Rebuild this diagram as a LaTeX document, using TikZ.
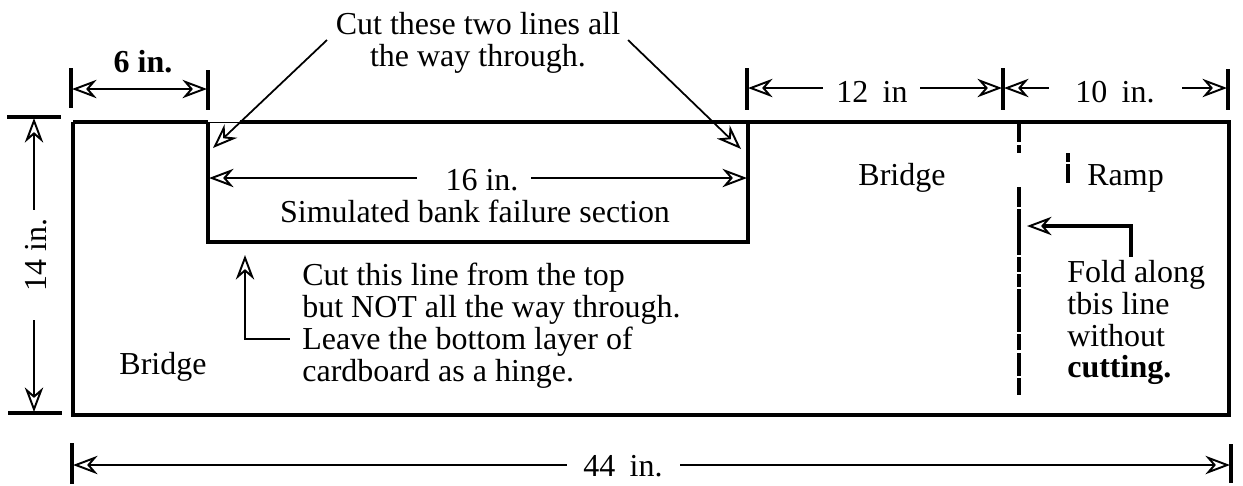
\documentclass[tikz,border=0pt]{standalone}
\usepackage{fontspec}
\setmainfont{Liberation Serif}
\usetikzlibrary{arrows.meta}
\tikzstyle{txt} = [inner sep = 0pt, font = \fontsize{18.2}{18.1}\selectfont, anchor = base]
\tikzstyle{para} = [inner sep = 0pt, font = \fontsize{18.2}{18.1}\selectfont, anchor = north west, align = left]
\tikzstyle{dim} = [<-, line width = 1pt]
\tikzstyle{tick} = [line width = 1.9pt]
\tikzstyle{edge} = [line width = 2.3pt]
\tikzstyle{rim} = [line width = 1.8pt]

\begin{document}
\begin{tikzpicture}[x = 0.02cm, y = -0.02cm, >={Stealth[open, length = 14pt, width = 10.5pt, inset = 4.5pt, line width = 1.1pt]}]
    \useasboundingbox (0, 0) rectangle (1243, 485);

    % outline of the board
    \coordinate (TL) at (73, 122);
    \coordinate (TLa) at (73, 155);
    \coordinate (BL) at (73, 415);
    \coordinate (BR) at (1229, 415);
    \coordinate (TR) at (1229, 122);
    \coordinate (Na) at (208, 122);
    \coordinate (Nb) at (208, 155);
    \coordinate (Nc) at (208, 242);
    \coordinate (Nd) at (748, 242);
    \coordinate (Ne) at (748, 122);
    \coordinate (Cuta) at (240, 122);
    \coordinate (Cutb) at (328, 122);
    \draw [rim] (TL) -- (TLa);
    \draw [edge] (TLa) -- (BL) -- (BR) -- (TR) -- (Cutb);
    \draw [rim] (TL) -- (Na);
    \draw [rim] (Na) -- (Nb);
    \draw [line width = 0.5pt] (Na) -- (Cuta);
    \draw [rim] (Cuta) -- (Cutb);
    \draw [line width = 2pt] (Nb) -- (Nc) -- (Nd) -- (Ne);

    % fold line and ramp mark
    \foreach \ya/\yb in {123/142, 145/153, 187/207, 209/255, 257/272, 274/287, 289/332, 334/350, 353/376, 378/395}
        \draw [line width = 2.2pt] (1019, \ya) -- (1019, \yb);
    \draw [line width = 2.4pt] (1068, 153) -- (1068, 162);
    \draw [line width = 2.4pt] (1068, 164) -- (1068, 183);

    % ticks
    \coordinate (Ta) at (71, 68);
    \coordinate (Tb) at (71, 108);
    \coordinate (Tc) at (208, 70);
    \coordinate (Td) at (208, 110);
    \coordinate (Te) at (747, 68);
    \coordinate (Tf) at (747, 110);
    \coordinate (Tg) at (1003, 68);
    \coordinate (Th) at (1003, 110);
    \coordinate (Ti) at (1228, 69);
    \coordinate (Tj) at (1228, 110);
    \coordinate (Tk) at (7, 117);
    \coordinate (Tl) at (61, 117);
    \coordinate (Tm) at (8, 413);
    \coordinate (Tn) at (62, 413);
    \coordinate (To) at (72, 443);
    \coordinate (Tp) at (72, 484);
    \coordinate (Tq) at (1231, 444);
    \coordinate (Tr) at (1231, 483);
    \draw [tick] (Ta) -- (Tb);
    \draw [tick] (Tc) -- (Td);
    \draw [tick] (Te) -- (Tf);
    \draw [tick] (Tg) -- (Th);
    \draw [tick] (Ti) -- (Tj);
    \draw [tick] (Tk) -- (Tl);
    \draw [tick] (Tm) -- (Tn);
    \draw [tick] (To) -- (Tp);
    \draw [tick] (Tq) -- (Tr);

    % dimensions
    \node (Six) at (143, 72) [txt] {\bfseries 6 in.};
    \coordinate (Sa) at (72, 89);
    \coordinate (Sb) at (207, 89);
    \draw [<->, line width = 1pt] (Sa) -- (Sb);

    \node (Twelve) at (872, 102) [txt] {12\hspace{0.2em} in};
    \coordinate (Ua) at (748, 88);
    \coordinate (Ub) at (823, 88);
    \coordinate (Uc) at (920, 88);
    \coordinate (Ud) at (1002, 88);
    \draw [dim] (Ua) -- (Ub);
    \draw [dim] (Ud) -- (Uc);

    \node (Ten) at (1115, 102) [txt] {10\hspace{0.2em} in.};
    \coordinate (Va) at (1004, 88);
    \coordinate (Vb) at (1049, 88);
    \coordinate (Vc) at (1182, 88);
    \coordinate (Vd) at (1227, 88);
    \draw [dim] (Va) -- (Vb);
    \draw [dim] (Vd) -- (Vc);

    \node (Sixteen) at (482, 190) [txt] {16 in.};
    \coordinate (Wa) at (209, 178);
    \coordinate (Wb) at (417, 178);
    \coordinate (Wc) at (531, 178);
    \coordinate (Wd) at (747, 178);
    \draw [dim] (Wa) -- (Wb);
    \draw [dim] (Wd) -- (Wc);

    \node (Fourteen) at (46, 255) [txt, rotate = 90] {14 in.};
    \coordinate (Xa) at (34, 118);
    \coordinate (Xb) at (34, 210);
    \coordinate (Xc) at (34, 320);
    \coordinate (Xd) at (34, 412);
    \draw [dim] (Xa) -- (Xb);
    \draw [dim] (Xd) -- (Xc);

    \node (FortyFour) at (623, 476) [txt] {44\hspace{0.2em} in.};
    \coordinate (Ya) at (73, 465);
    \coordinate (Yb) at (567, 465);
    \coordinate (Yc) at (680, 465);
    \coordinate (Yd) at (1230, 465);
    \draw [dim] (Ya) -- (Yb);
    \draw [dim] (Yd) -- (Yc);

    % labels
    \node (Cut) at (478, 12) [para, anchor = north, align = center] {Cut these two lines all\\the way through.};
    \coordinate (Ca) at (327, 40);
    \coordinate (Cb) at (213, 148);
    \coordinate (Cc) at (628, 40);
    \coordinate (Cd) at (741, 149);
    \draw [dim] (Cb) -- (Ca);
    \draw [dim] (Cd) -- (Cc);

    \node (Section) at (475, 222) [txt] {Simulated bank failure section};
    \node (BridgeA) at (902, 185) [txt] {Bridge};
    \node (BridgeB) at (163, 374) [txt] {Bridge};
    \node (Ramp) at (1087, 185) [txt, anchor = base west] {Ramp};

    \node (Hinge) at (302, 263) [para] {Cut this line from the top\\but NOT all the way through.\\Leave the bottom layer of\\cardboard as a hinge.};
    \coordinate (Ha) at (245, 255);
    \coordinate (Hb) at (245, 339);
    \coordinate (Hc) at (290, 339);
    \draw [dim] (Ha) -- (Hb) -- (Hc);

    \node (Fold) at (1067, 260) [para] {Fold along\\tbis line\\without\\\textbf{cutting.}};
    \coordinate (Fa) at (1027, 226);
    \coordinate (Fb) at (1131, 226);
    \coordinate (Fc) at (1131, 257);
    \draw [dim, line width = 1.8pt] (Fa) -- (Fb) -- (Fc);
\end{tikzpicture}
\end{document}
